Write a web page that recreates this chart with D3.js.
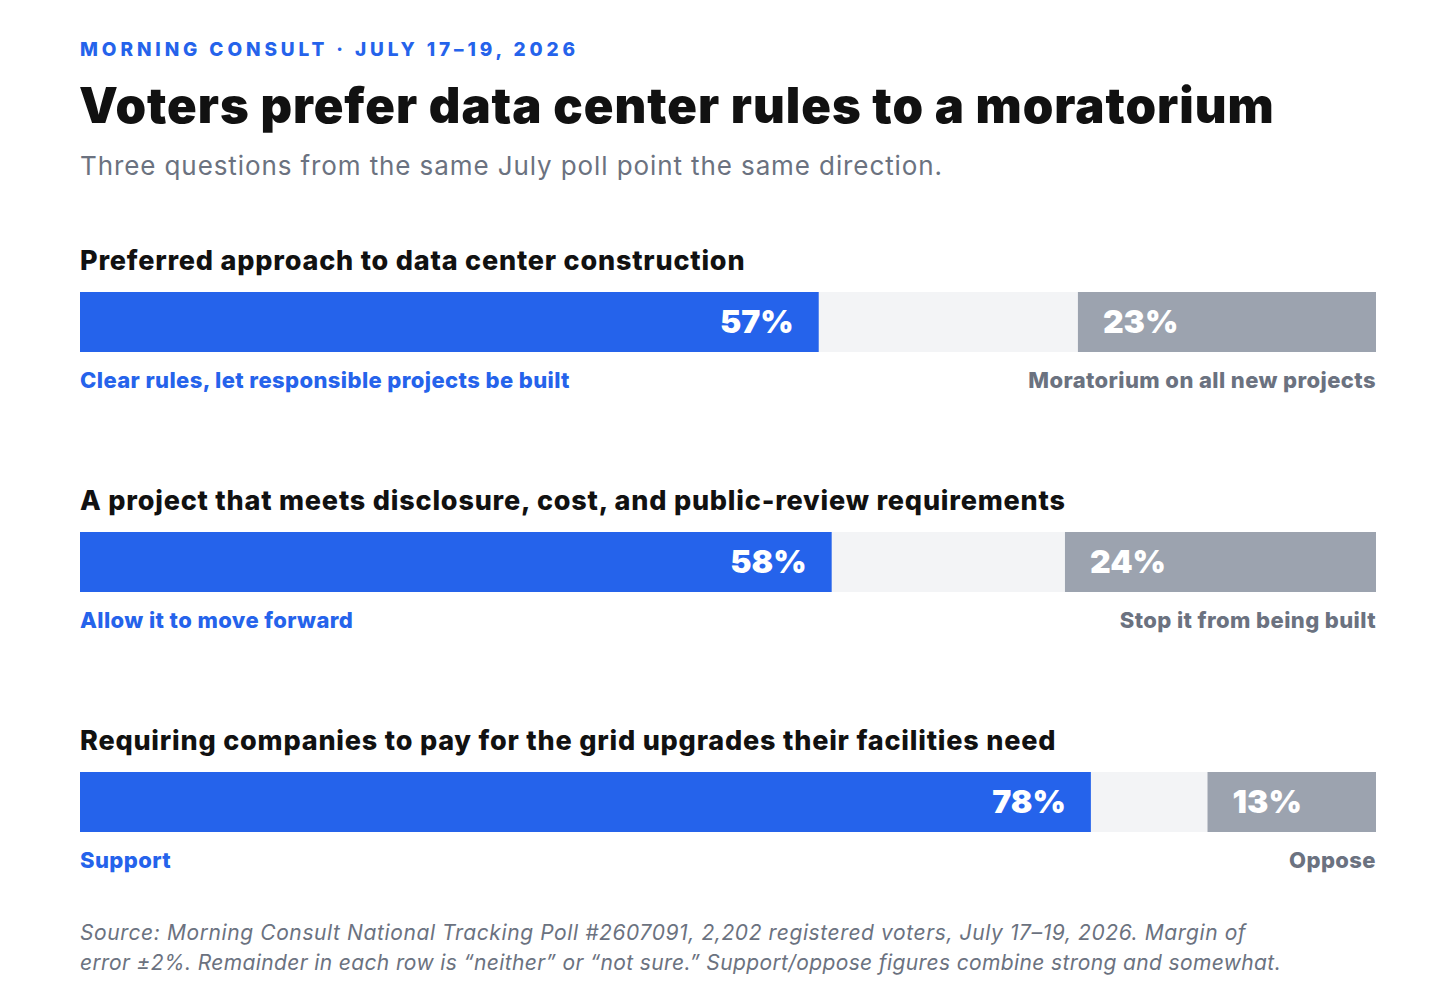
<!DOCTYPE html>
<html>
<head>
<meta charset="utf-8">
<script src="https://cdn.jsdelivr.net/npm/d3@7"></script>
<style>
  body { margin: 0; background: #ffffff; }
  text { font-family: Inter, "Noto Sans", sans-serif; }
</style>
</head>
<body>
<div id="chart"></div>
<script>
// data
var questions = [
    "Preferred approach to data center construction",
    "A project that meets disclosure, cost, and public-review requirements",
    "Requiring companies to pay for the grid upgrades their facilities need"
];
var supportValues = [57, 58, 78];
var opposeValues = [23, 24, 13];
var supportLabels = ["Clear rules, let responsible projects be built", "Allow it to move forward", "Support"];
var opposeLabels = ["Moratorium on all new projects", "Stop it from being built", "Oppose"];

var blue = "#2563eb";
var gray = "#9ca3af";
var track = "#f3f4f6";
var textGray = "#6b7280";

var W = 1456, H = 1000;
var margin = { left: 80, right: 80 };

var svg = d3.select("#chart")
    .append("svg")
    .attr("width", W)
    .attr("height", H);

// x scale, percent across full width
var x = d3.scaleLinear()
    .domain([0, 100])
    .range([margin.left, W - margin.right]);

// rows
var rowY = d3.scaleBand()
    .domain(d3.range(questions.length))
    .range([232, 232 + 240 * questions.length]);

var barTop = 60, barH = 60;

// header
svg.append("text")
    .attr("x", 80)
    .attr("y", 56)
    .text("MORNING CONSULT · JULY 17–19, 2026")
    .style("font-size", "19px")
    .style("font-weight", 800)
    .style("letter-spacing", "3.9px")
    .style("fill", blue);

svg.append("text")
    .attr("x", 79)
    .attr("y", 123)
    .text("Voters prefer data center rules to a moratorium")
    .style("font-size", "49px")
    .style("font-weight", 900)
    .style("letter-spacing", "0.95px")
    .style("fill", "#111111");

svg.append("text")
    .attr("x", 80)
    .attr("y", 175)
    .text("Three questions from the same July poll point the same direction.")
    .style("font-size", "26px")
    .style("letter-spacing", "0.9px")
    .style("fill", textGray);

var rows = svg.selectAll(".row")
    .data(questions)
    .enter()
    .append("g")
    .attr("class", "row")
    .attr("transform", function(d, i) { return "translate(0," + rowY(i) + ")"; });

rows.append("text")
    .attr("x", 80)
    .attr("y", 38)
    .text(function(d) { return d; })
    .style("font-size", "27px")
    .style("font-weight", 800)
    .style("letter-spacing", "0.8px")
    .style("fill", "#111111");

// background track
rows.append("rect")
    .attr("x", x(0))
    .attr("y", barTop)
    .attr("width", x(100) - x(0))
    .attr("height", barH)
    .style("fill", track);

// support bar
rows.append("rect")
    .attr("x", x(0))
    .attr("y", barTop)
    .attr("width", function(d, i) { return x(supportValues[i]) - x(0); })
    .attr("height", barH)
    .style("fill", blue);

// oppose bar from the right
rows.append("rect")
    .attr("x", function(d, i) { return x(100 - opposeValues[i]); })
    .attr("y", barTop)
    .attr("width", function(d, i) { return x(100) - x(100 - opposeValues[i]); })
    .attr("height", barH)
    .style("fill", gray);

rows.append("text")
    .attr("x", function(d, i) { return x(supportValues[i]) - 25; })
    .attr("y", barTop + 41)
    .attr("text-anchor", "end")
    .text(function(d, i) { return supportValues[i] + "%"; })
    .style("font-size", "32px")
    .style("font-weight", 900)
    .style("fill", "#ffffff");

rows.append("text")
    .attr("x", function(d, i) { return x(100 - opposeValues[i]) + 25; })
    .attr("y", barTop + 41)
    .text(function(d, i) { return opposeValues[i] + "%"; })
    .style("font-size", "32px")
    .style("font-weight", 900)
    .style("fill", "#ffffff");

rows.append("text")
    .attr("x", x(0))
    .attr("y", barTop + barH + 36)
    .text(function(d, i) { return supportLabels[i]; })
    .style("font-size", "22px")
    .style("font-weight", 800)
    .style("letter-spacing", "0.4px")
    .style("fill", blue);

rows.append("text")
    .attr("x", x(100))
    .attr("y", barTop + barH + 36)
    .attr("text-anchor", "end")
    .text(function(d, i) { return opposeLabels[i]; })
    .style("font-size", "22px")
    .style("font-weight", 800)
    .style("letter-spacing", "0.4px")
    .style("fill", textGray);

// footer
var foot = [
    "Source: Morning Consult National Tracking Poll #2607091, 2,202 registered voters, July 17–19, 2026. Margin of",
    "error ±2%. Remainder in each row is “neither” or “not sure.” Support/oppose figures combine strong and somewhat."
];
svg.selectAll(".foot")
    .data(foot)
    .enter()
    .append("text")
    .attr("class", "foot")
    .attr("x", 80)
    .attr("y", function(d, i) { return 940 + i * 30; })
    .text(function(d) { return d; })
    .style("font-size", "21px")
    .style("font-style", "italic")
    .style("letter-spacing", function(d, i) { return i == 0 ? "0.6px" : "0.37px"; })
    .style("fill", textGray);
</script>
</body>
</html>
